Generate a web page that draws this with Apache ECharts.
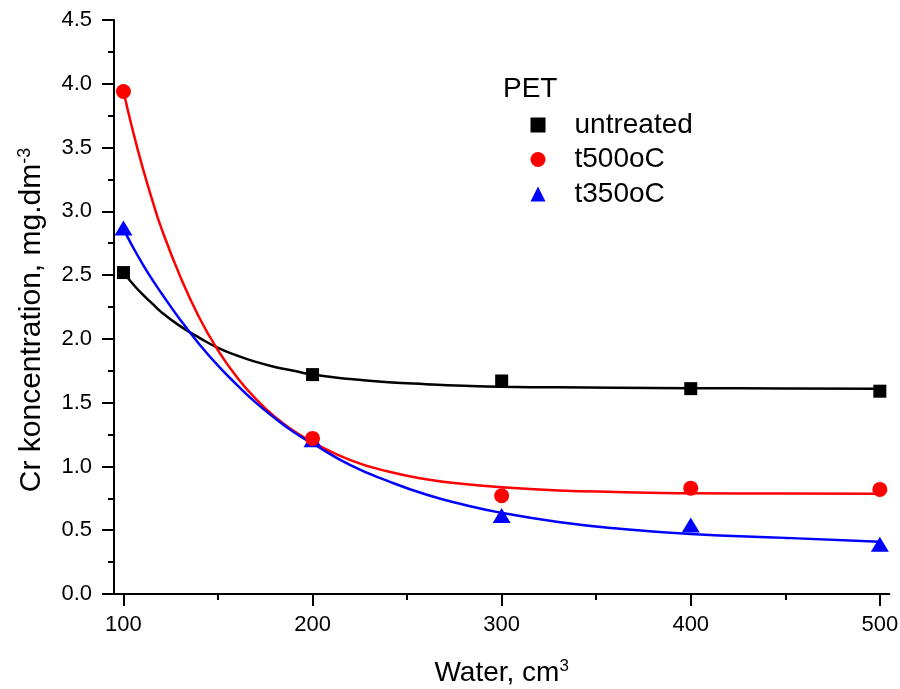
<!DOCTYPE html>
<html>
<head>
<meta charset="utf-8">
<script src="https://cdn.jsdelivr.net/npm/echarts@6/dist/echarts.min.js"></script>
<style>
html,body{margin:0;padding:0;background:#fff;}
#chart{width:900px;height:689px;}
</style>
</head>
<body>
<div id="chart"></div>
<script>
// Measured points
var xPoints = [100, 200, 300, 400, 500];
var untreated = [2.52, 1.72, 1.67, 1.61, 1.59];
var t500 = [3.94, 1.22, 0.77, 0.83, 0.82];
var t350 = [2.87, 1.21, 0.615, 0.54, 0.39];

// Fitted curves
var fitX = [100, 105, 110, 115, 120, 130, 140, 150, 160, 170, 180, 190, 200, 220, 240, 260, 280, 300, 330, 360, 400, 450, 500];
var fitUntreated = [2.52, 2.43, 2.35, 2.28, 2.21, 2.10, 2.01, 1.93, 1.87, 1.82, 1.78, 1.75, 1.72, 1.685, 1.66, 1.645, 1.633, 1.625, 1.62, 1.617, 1.614, 1.612, 1.61];
var fitT500 = [3.94, 3.63, 3.35, 3.10, 2.87, 2.49, 2.17, 1.91, 1.70, 1.53, 1.39, 1.28, 1.19, 1.05, 0.96, 0.90, 0.862, 0.836, 0.812, 0.80, 0.79, 0.787, 0.785];
var fitT350 = [2.86, 2.72, 2.59, 2.47, 2.36, 2.15, 1.96, 1.79, 1.64, 1.50, 1.38, 1.27, 1.18, 1.01, 0.885, 0.78, 0.70, 0.636, 0.565, 0.515, 0.47, 0.44, 0.41];

var xMajor = [100, 200, 300, 400, 500];
var xMinor = [150, 250, 350, 450];
var seriesNames = ['untreated', 't500oC', 't350oC'];
var legendTitle = 'PET';
var xTitle = 'Water, cm';
var yTitle = 'Cr koncentration, mg.dm';

function pairs(xs, ys) { return xs.map(function (x, i) { return [x, ys[i]]; }); }

var FONT = 'Liberation Sans, Arial, sans-serif';
var chart = echarts.init(document.getElementById('chart'));

var option = {
  animation: false,
  backgroundColor: '#fff',
  grid: { left: 114, right: 10.7, top: 20, bottom: 95, containLabel: false, outerBoundsMode: 'none' },
  xAxis: [{
    type: 'value', min: 95, max: 505,
    axisLine: { show: true, onZero: false, lineStyle: { color: '#000', width: 2 } },
    axisTick: { show: true, inside: false, length: 12, lineStyle: { color: '#000', width: 2 }, customValues: xMajor },
    axisLabel: { show: true, margin: 20, color: '#000', fontSize: 22, fontFamily: FONT, customValues: xMajor },
    splitLine: { show: false },
    name: xTitle + '{sup|3}',
    nameLocation: 'middle', nameGap: 64,
    nameTextStyle: { color: '#000', fontSize: 28, fontFamily: FONT,
      rich: { sup: { fontSize: 17, fontFamily: FONT, color: '#000', verticalAlign: 'top', padding: [0, 0, 13, 0] } } }
  }, {
    type: 'value', min: 95, max: 505, position: 'bottom',
    axisLine: { show: false, onZero: false },
    axisTick: { show: true, inside: false, length: 6, lineStyle: { color: '#000', width: 2 }, customValues: xMinor },
    axisLabel: { show: false },
    splitLine: { show: false }
  }],
  yAxis: {
    type: 'value', min: 0, max: 4.5, interval: 0.5,
    axisLine: { show: true, onZero: false, lineStyle: { color: '#000', width: 2 } },
    axisTick: { show: true, inside: false, length: 12, lineStyle: { color: '#000', width: 2 } },
    minorTick: { show: true, splitNumber: 2, length: 6, lineStyle: { color: '#000', width: 2 } },
    axisLabel: { margin: 22, color: '#000', fontSize: 22, fontFamily: FONT, formatter: function (v) { return v.toFixed(1); } },
    splitLine: { show: false },
    name: yTitle + '{sup|-3}',
    nameLocation: 'middle', nameGap: 66,
    nameTextStyle: { color: '#000', fontSize: 30, fontFamily: FONT, padding: [0, 26, 0, 0],
      rich: { sup: { fontSize: 18, fontFamily: FONT, color: '#000', verticalAlign: 'top', padding: [0, 0, 14, 0] } } }
  },
  legend: {
    orient: 'vertical', left: 525.5, top: 105,
    itemWidth: 15, itemHeight: 15, itemGap: 4.5,
    data: [
      { name: seriesNames[0], icon: 'rect' },
      { name: seriesNames[1], icon: 'circle' },
      { name: seriesNames[2], icon: 'triangle' }
    ],
    textStyle: { color: '#000', fontSize: 28, fontFamily: FONT, lineHeight: 30, padding: [0, 0, 0, 24] },
    selectedMode: false
  },
  graphic: [{
    type: 'text', left: 503, top: 75,
    style: { text: legendTitle, fill: '#000', font: '28px ' + FONT }
  }],
  series: [
    { name: seriesNames[0] + ' fit', type: 'line', data: pairs(fitX, fitUntreated), smooth: true, showSymbol: false, symbol: 'none',
      lineStyle: { color: '#000', width: 2.5 }, itemStyle: { color: '#000' }, z: 2 },
    { name: seriesNames[1] + ' fit', type: 'line', data: pairs(fitX, fitT500), smooth: true, showSymbol: false, symbol: 'none',
      lineStyle: { color: '#ff0000', width: 2.5 }, itemStyle: { color: '#ff0000' }, z: 2 },
    { name: seriesNames[2] + ' fit', type: 'line', data: pairs(fitX, fitT350), smooth: true, showSymbol: false, symbol: 'none',
      lineStyle: { color: '#0000ff', width: 2.5 }, itemStyle: { color: '#0000ff' }, z: 2 },
    { name: seriesNames[0], type: 'scatter', data: pairs(xPoints, untreated), symbol: 'rect', symbolSize: 13,
      itemStyle: { color: '#000', opacity: 1 }, z: 5 },
    { name: seriesNames[1], type: 'scatter', data: pairs(xPoints, t500), symbol: 'circle', symbolSize: 15,
      itemStyle: { color: '#ff0000', opacity: 1 }, z: 4 },
    { name: seriesNames[2], type: 'scatter', data: pairs(xPoints, t350), symbol: 'triangle', symbolSize: [18, 15],
      itemStyle: { color: '#0000ff', opacity: 1 }, z: 3 }
  ]
};
chart.setOption(option);
</script>
</body>
</html>
